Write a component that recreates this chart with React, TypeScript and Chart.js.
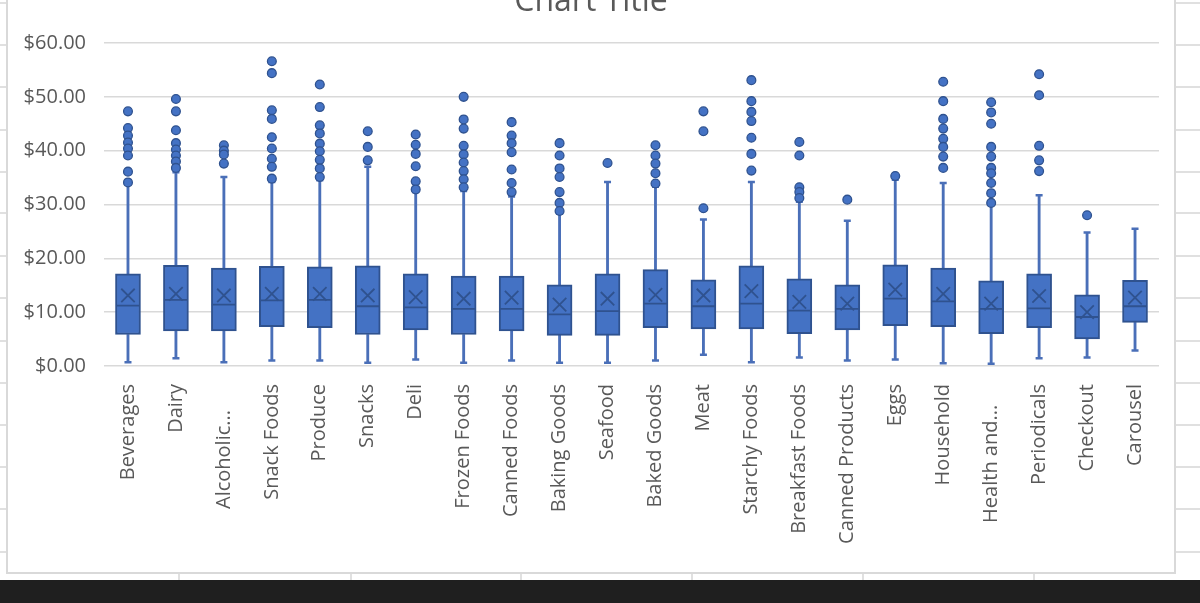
import React, { useEffect, useRef } from "react";
import { Chart, registerables } from "chart.js";
Chart.register(...registerables);

const categories = [
  "Beverages", "Dairy", "Alcoholic...", "Snack Foods", "Produce", "Snacks", "Deli",
  "Frozen Foods", "Canned Foods", "Baking Goods", "Seafood", "Baked Goods", "Meat",
  "Starchy Foods", "Breakfast Foods", "Canned Products", "Eggs", "Household",
  "Health and...", "Periodicals", "Checkout", "Carousel",
];

const whiskerMin = [0.7, 1.45, 0.7, 1.0, 1.0, 0.6, 1.2, 0.6, 1.0, 0.6, 0.6, 1.0, 2.1, 0.7, 1.6, 1.0, 1.2, 0.5, 0.4, 1.45, 1.6, 2.9];
const q1 = [5.85, 6.5, 6.5, 7.3, 7.1, 5.85, 6.7, 5.85, 6.5, 5.7, 5.7, 7.1, 6.9, 6.9, 6.0, 6.7, 7.5, 7.3, 6.0, 7.1, 5.05, 8.1];
const median = [11.2, 12.3, 11.4, 12.2, 12.3, 11.1, 10.9, 10.6, 10.6, 9.6, 10.2, 11.6, 11.1, 11.6, 10.3, 10.6, 12.5, 12.0, 10.6, 10.7, 9.1, 11.1];
const mean = [13.1, 13.4, 13.1, 13.4, 13.4, 13.1, 12.8, 12.5, 12.7, 11.4, 12.5, 13.2, 13.1, 13.9, 11.9, 11.6, 14.2, 13.4, 11.6, 13.0, 10.0, 12.7];
const q3 = [17.1, 18.7, 18.2, 18.5, 18.4, 18.6, 17.1, 16.7, 16.7, 15.1, 17.1, 17.9, 16.0, 18.6, 16.2, 15.1, 18.8, 18.2, 15.8, 17.1, 13.2, 15.9];
const whiskerMax = [33.8, 36.0, 35.1, 34.2, 34.5, 37.0, 32.3, 32.5, 31.5, 28.3, 34.2, 33.3, 27.2, 34.2, 30.5, 27.0, 34.6, 34.0, 30.0, 31.7, 24.8, 25.5];
const outliers: number[][] = [
  [47.3, 44.2, 42.8, 41.5, 40.4, 39.1, 36.1, 34.1],
  [49.6, 47.3, 43.8, 41.4, 40.2, 39.1, 38.0, 36.8],
  [41.0, 40.0, 39.3, 37.6],
  [56.6, 54.4, 47.5, 45.9, 42.5, 40.4, 38.5, 37.0, 34.8],
  [52.3, 48.1, 44.7, 43.2, 41.3, 39.9, 38.3, 36.7, 35.1],
  [43.6, 40.7, 38.2],
  [43.0, 41.1, 39.4, 37.1, 34.3, 32.8],
  [50.0, 45.8, 44.1, 40.9, 39.3, 37.8, 36.2, 34.7, 33.2],
  [45.3, 42.8, 41.4, 39.7, 36.5, 34.0, 32.3],
  [41.4, 39.1, 36.7, 35.1, 32.3, 30.3, 28.8],
  [37.7],
  [41.0, 39.1, 37.6, 35.8, 33.9],
  [47.3, 43.6, 29.3],
  [53.1, 49.2, 47.2, 45.5, 42.4, 39.4, 36.3],
  [41.6, 39.1, 33.2, 32.3, 31.2],
  [30.9],
  [35.3],
  [52.8, 49.2, 45.9, 44.1, 42.2, 40.7, 38.9, 36.8],
  [49.0, 47.1, 45.0, 40.7, 38.9, 36.8, 35.8, 34.0, 32.1, 30.3],
  [54.2, 50.3, 40.9, 38.2, 36.2],
  [28.0],
  [],
];
const yMin = 0;
const yMax = 60;
const yStep = 10;
const chartTitle = "Chart Title";

const FONT = '"Open Sans", "DejaVu Sans", sans-serif';
const BOX_FILL = "#4472C4";
const BOX_EDGE = "#2F528F";
const WHISKER = "#4A6FB8";
const TEXT = "#595959";

// trailing padding for labels that Excel shifted down
const labelShift: Record<string, number> = { "Alcoholic...": 5, "Health and...": 4 };

const sheetPlugin = {
  id: "sheet",
  beforeDraw(chart: any) {
    const { ctx, width, height } = chart;
    ctx.save();
    ctx.fillStyle = "#ffffff";
    ctx.fillRect(0, 0, width, height);
    ctx.strokeStyle = "#d6d6d6";
    ctx.lineWidth = 1.5;
    const rows = [3, 45, 87, 130, 172, 213, 256, 298, 341, 383, 425, 467, 509, 552];
    rows.forEach((y) => {
      ctx.beginPath();
      ctx.moveTo(0, y);
      ctx.lineTo(7, y);
      ctx.moveTo(1175, y);
      ctx.lineTo(width, y);
      ctx.stroke();
    });
    [179, 351, 521, 692, 863, 1034].forEach((x) => {
      ctx.beginPath();
      ctx.moveTo(x, 573);
      ctx.lineTo(x, 580);
      ctx.stroke();
    });
    ctx.strokeStyle = "#d9d9d9";
    ctx.lineWidth = 2;
    ctx.beginPath();
    ctx.moveTo(7, 0);
    ctx.lineTo(7, 573);
    ctx.lineTo(1175, 573);
    ctx.lineTo(1175, 0);
    ctx.stroke();
    ctx.fillStyle = "#1f1f1f";
    ctx.fillRect(0, 580, width, height - 580);
    ctx.fillStyle = TEXT;
    ctx.font = `32px ${FONT}`;
    ctx.textAlign = "center";
    ctx.textBaseline = "alphabetic";
    ctx.fillText(chartTitle, 591, 11);
    ctx.restore();
  },
};

export default function App() {
  const ref = useRef<HTMLCanvasElement>(null);
  useEffect(() => {
    const canvas = ref.current!;
    const pts = (arr: number[]) => arr.map((v, i) => ({ x: categories[i], y: v }));
    const outlierPts = outliers.flatMap((arr, i) => arr.map((v) => ({ x: categories[i], y: v })));
    const chart = new Chart(canvas, {
      type: "bar",
      data: {
        labels: categories,
        datasets: [
          {
            type: "line",
            label: "Outliers",
            data: outlierPts as any,
            showLine: false,
            pointStyle: "circle",
            pointRadius: 4.4,
            pointBackgroundColor: BOX_FILL,
            pointBorderColor: BOX_EDGE,
            pointBorderWidth: 1.3,
            order: 0,
          },
          {
            type: "line",
            label: "Mean",
            data: pts(mean) as any,
            showLine: false,
            pointStyle: "crossRot",
            pointRadius: 9.5,
            pointBorderColor: BOX_EDGE,
            pointBorderWidth: 1.8,
            order: 1,
          },
          {
            type: "line",
            label: "Median",
            data: pts(median) as any,
            showLine: false,
            pointStyle: "line",
            pointRadius: 12,
            pointBorderColor: BOX_EDGE,
            pointBorderWidth: 1.8,
            order: 1,
          },
          {
            type: "bar",
            label: "Box",
            data: q1.map((v, i) => [v, q3[i]]) as any,
            backgroundColor: BOX_FILL,
            borderColor: BOX_EDGE,
            borderWidth: 2,
            borderSkipped: false,
            barThickness: 25,
            grouped: false,
            order: 2,
          } as any,
          {
            type: "line",
            label: "Caps",
            data: [...pts(whiskerMin), ...pts(whiskerMax)] as any,
            showLine: false,
            pointStyle: "line",
            pointRadius: 3.5,
            pointBorderColor: WHISKER,
            pointBorderWidth: 2.5,
            order: 3,
          },
          {
            type: "bar",
            label: "Lower whisker",
            data: whiskerMin.map((v, i) => [v, q1[i]]) as any,
            backgroundColor: WHISKER,
            borderWidth: 0,
            barThickness: 2.2,
            grouped: false,
            order: 4,
          } as any,
          {
            type: "bar",
            label: "Upper whisker",
            data: q3.map((v, i) => [v, whiskerMax[i]]) as any,
            backgroundColor: WHISKER,
            borderWidth: 0,
            barThickness: 2.2,
            grouped: false,
            order: 4,
          } as any,
        ],
      },
      options: {
        responsive: false,
        animation: false,
        devicePixelRatio: 1,
        events: [],
        layout: { padding: { left: 7, right: 41, top: 43, bottom: 30 } },
        plugins: {
          legend: { display: false },
          title: { display: false },
          tooltip: { enabled: false },
        },
        scales: {
          x: {
            type: "category",
            offset: true,
            grid: { display: false, drawTicks: false },
            border: { display: false },
            ticks: {
              autoSkip: false,
              minRotation: 90,
              maxRotation: 90,
              padding: 18,
              color: TEXT,
              font: { family: FONT, size: 20 },
              callback: (_v: any, i: number) => categories[i] + " ".repeat(labelShift[categories[i]] || 0),
            },
            afterFit: (s: any) => {
              s.height = 207;
            },
          } as any,
          y: {
            min: yMin,
            max: yMax,
            grid: { color: "#d9d9d9", lineWidth: 1.5, drawTicks: false },
            border: { display: false },
            ticks: {
              stepSize: yStep,
              padding: 18,
              color: TEXT,
              font: { family: FONT, size: 20 },
              callback: (v: any) => "$" + Number(v).toFixed(2),
            },
            afterFit: (s: any) => {
              s.width = 97;
            },
          } as any,
        },
      },
      plugins: [sheetPlugin],
    });
    return () => chart.destroy();
  }, []);
  return (
    <div style={{ position: "absolute", left: 0, top: 0, width: 1200, height: 603 }}>
      <canvas ref={ref} width={1200} height={603} style={{ display: "block" }} />
    </div>
  );
}
